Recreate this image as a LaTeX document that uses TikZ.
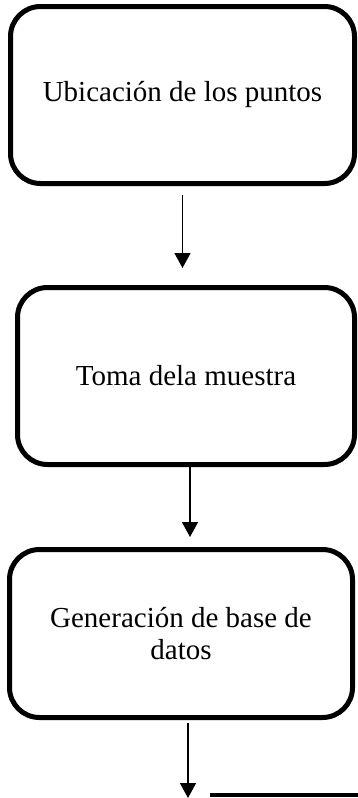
\documentclass[tikz,border=0pt]{standalone}
\usepackage{fontspec}
\setmainfont{Liberation Serif}
\usetikzlibrary{positioning,arrows.meta}
\begin{document}
\begin{tikzpicture}[x=1pt, y=1pt,
        paso/.style={draw, rectangle, rounded corners=30pt, line width=5pt, outer sep=0pt,
            align=center, font=\fontsize{29}{32}\selectfont},
        flecha/.style={-{Triangle[width=16pt, length=15pt]}, line width=1.5pt}]
        \useasboundingbox (0,0) rectangle (358,-798);
        \node (ubic) [paso, minimum width=344pt, minimum height=177pt] at (182.5,-95) {Ubicación de los puntos};
        \node (toma) [paso, minimum width=337pt, minimum height=177pt, below=104pt of ubic, xshift=3.5pt] {Toma dela muestra};
        \node (base) [paso, minimum width=343pt, minimum height=168pt, below=85pt of toma, xshift=-5pt] {Generación de base de\\datos};
        \coordinate (fin) at (188,-798);
        \coordinate (linea) at (210,-795);

        \draw[flecha, shorten <=11.5pt, shorten >=19.5pt] (ubic.south) -- (ubic.south |- toma.north);
        \draw[flecha, shorten <=-2.5pt, shorten >=12.5pt] ([xshift=4pt]toma.south) -- ([xshift=4pt]toma.south |- base.north);
        \draw[flecha, shorten <=5.5pt] (fin |- base.south) -- (fin);
        \draw[line width=4pt] (linea) -- (358,-795);
    \end{tikzpicture}
\end{document}
